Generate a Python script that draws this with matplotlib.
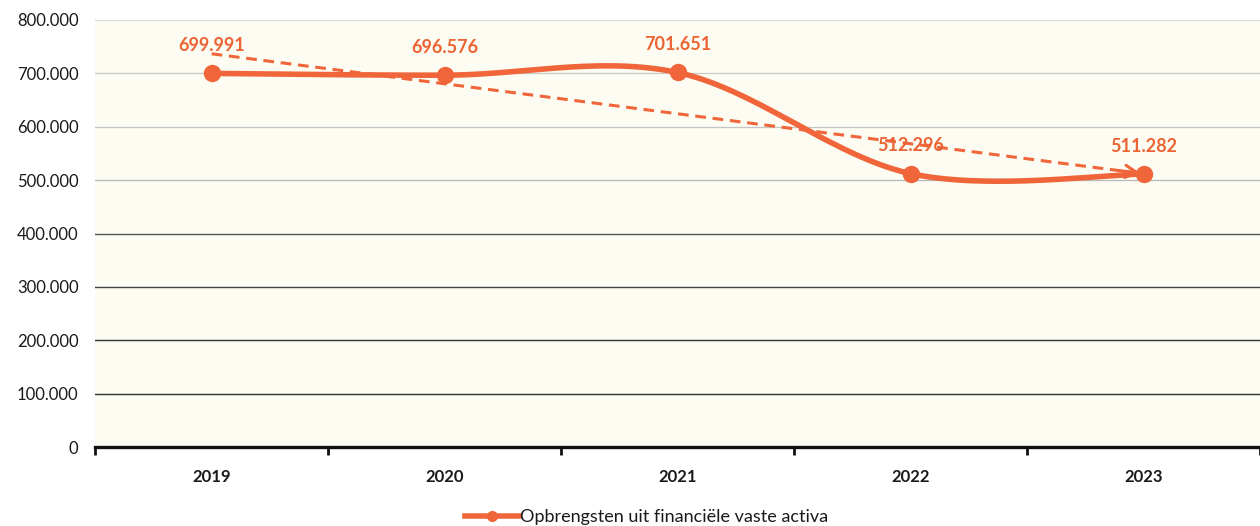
import numpy as np
import matplotlib
matplotlib.use("Agg")
import matplotlib.pyplot as plt
from matplotlib.lines import Line2D

plt.rcParams['font.family'] = ['Lato', 'DejaVu Sans']

years = ["2019", "2020", "2021", "2022", "2023"]
values = [699991, 696576, 701651, 512296, 511282]
value_labels = ["699.991", "696.576", "701.651", "512.296", "511.282"]
y_ticks = [0, 100000, 200000, 300000, 400000, 500000, 600000, 700000, 800000]
y_tick_labels = ["0", "100.000", "200.000", "300.000", "400.000", "500.000",
                 "600.000", "700.000", "800.000"]
series_name = "Opbrengsten uit financiële vaste activa"

ORANGE = "#F0663A"

def catmull_rom(xs, ys, n=60):
    P = np.column_stack([xs, ys]).astype(float)
    P_ext = np.vstack([P[0], P, P[-1]])
    out = []
    for i in range(len(P) - 1):
        p0, p1, p2, p3 = P_ext[i], P_ext[i + 1], P_ext[i + 2], P_ext[i + 3]
        c1 = p1 + (p2 - p0) / 6.0
        c2 = p2 - (p3 - p1) / 6.0
        t = np.linspace(0, 1, n)[:, None]
        seg = ((1 - t) ** 3) * p1 + 3 * ((1 - t) ** 2) * t * c1 + 3 * (1 - t) * t ** 2 * c2 + t ** 3 * p2
        out.append(seg if i == 0 else seg[1:])
    out = np.vstack(out)
    return out[:, 0], out[:, 1]

fig = plt.figure(figsize=(12.6, 5.26), dpi=100)
fig.patch.set_facecolor("white")
ax = fig.add_axes([0.0755, 0.150, 0.9245, 0.812])
ax.set_facecolor("#FCFCF2")

x = np.arange(len(years))
ax.set_xlim(-0.5, 4.46)
ax.set_ylim(0, 800000)

# gridlines
grid_colors = ["#222222", "#333333", "#333333", "#444444", "#555555",
               "#B8B8B8", "#C4C4C4", "#C8C8C8", "#D8D8D8"]
for yv, c in zip(y_ticks[1:], grid_colors[1:]):
    ax.axhline(yv, color=c, lw=1.0 if yv <= 400000 else 0.9, zorder=1)

# trend line
coef = np.polyfit(x, values, 1)
trend = np.polyval(coef, x)
ax.plot(x, trend, color=ORANGE, lw=2.2, ls=(0, (3.5, 2.2)), zorder=3)
ax.annotate("", xy=(x[-1], trend[-1]), xytext=(x[-1] - 0.12, trend[-1] + 0.12 * (-coef[0])),
            arrowprops=dict(arrowstyle="->", color=ORANGE, lw=2.2,
                            mutation_scale=22), zorder=3)

# smooth series
sx, sy = catmull_rom(x, values)
ax.plot(sx, sy, color=ORANGE, lw=4.0, solid_capstyle="round", zorder=4)
ax.plot(x, values, ls="none", marker="o", ms=11.5, color=ORANGE, zorder=5)

for xi, v, lab in zip(x, values, value_labels):
    ax.annotate(lab, (xi, v), xytext=(0, 14), textcoords="offset points",
                ha="center", va="bottom", color="#EC6434", fontsize=13,
                fontweight="bold", zorder=6)

# axes styling
for s in ["top", "right", "left"]:
    ax.spines[s].set_visible(False)
ax.spines["bottom"].set_color("#111111")
ax.spines["bottom"].set_linewidth(2.4)
ax.set_yticks(y_ticks)
ax.set_yticklabels(y_tick_labels, fontsize=12, color="#1A1A1A")
ax.tick_params(axis="y", length=0, pad=12)
ax.set_xticks(x)
ax.set_xticklabels(years, fontsize=12, color="#1A1A1A", fontweight="bold")
ax.tick_params(axis="x", which="major", length=0, pad=16)
ax.set_xticks(np.arange(-0.5, len(years), 1.0), minor=True)
ax.tick_params(axis="x", which="minor", length=6, width=2, color="#111111", direction="out")

handle = Line2D([0], [0], color=ORANGE, lw=4.0, marker="o", ms=7)
fig.legend([handle], [series_name], loc="center", bbox_to_anchor=(0.513, 0.017),
           frameon=False, fontsize=13, handlelength=3.0, handletextpad=0.05,
           labelcolor="#1A1A1A")

fig.savefig("out.png", dpi=100, facecolor="white")
